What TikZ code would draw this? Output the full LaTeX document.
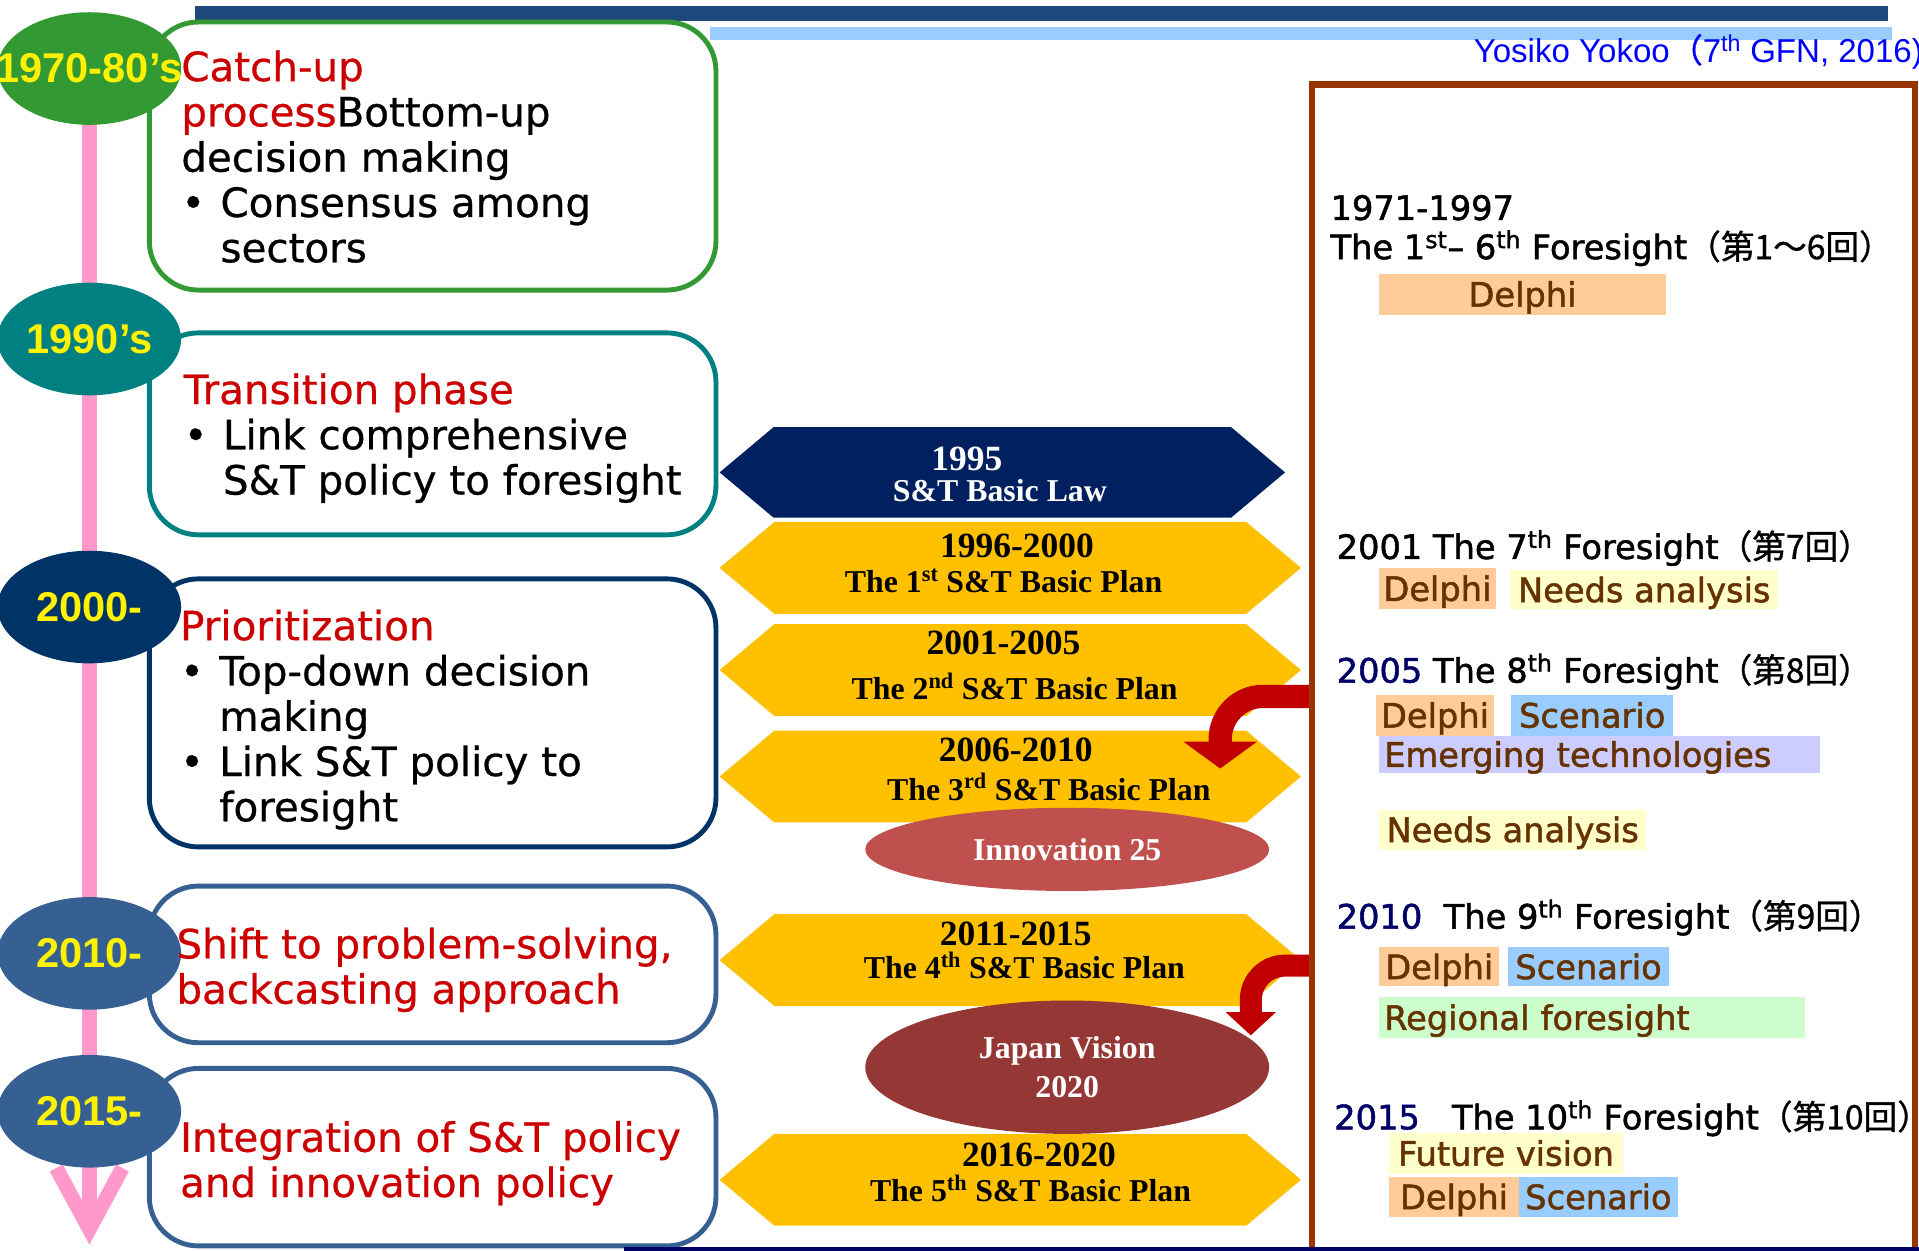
\documentclass[tikz,border=0pt]{standalone}
\usepackage{fontspec}
\setmainfont{DejaVu Sans}[FakeBold=0.6]
\newfontfamily\fsfont{DejaVu Sans}[FakeBold=1.5]
\newfontfamily\jp{Noto Sans CJK JP}[FakeBold=1]
\newfontfamily\arialfont{Liberation Sans}
\newfontfamily\timesfont{Liberation Serif}
\usetikzlibrary{shapes.geometric,shapes.symbols,arrows.meta}

\definecolor{eragreen}{HTML}{339933}
\definecolor{erateal}{HTML}{008080}
\definecolor{eranavy}{HTML}{003366}
\definecolor{erablue}{HTML}{366092}
\definecolor{timepink}{HTML}{FF99CC}
\definecolor{headred}{HTML}{CC0000}
\definecolor{arrowred}{HTML}{C00000}
\definecolor{lawnavy}{HTML}{002060}
\definecolor{plangold}{HTML}{FFC000}
\definecolor{innored}{HTML}{C0504D}
\definecolor{visionred}{HTML}{953735}
\definecolor{framebrown}{HTML}{993300}
\definecolor{tagbrown}{HTML}{663300}
\definecolor{delphi}{HTML}{FFCC99}
\definecolor{needs}{HTML}{FFFFCC}
\definecolor{scenario}{HTML}{99CCFF}
\definecolor{emerging}{HTML}{CCCCFF}
\definecolor{regional}{HTML}{CCFFCC}
\definecolor{yearnavy}{HTML}{000066}
\definecolor{barblue}{HTML}{1F497D}
\definecolor{barlight}{HTML}{99CCFF}

\newcommand{\bul}{\makebox[32pt][l]{\textbullet}}
\newcommand{\indt}{\hspace*{32pt}}
\newcommand{\ord}[1]{\textsuperscript{#1}}

\begin{document}
\begin{tikzpicture}[x=1pt, y=-1pt,
    era/.style={ellipse, minimum width=150pt, minimum height=92pt, inner sep=0pt, text=yellow, font=\arialfont\bfseries\fontsize{34}{34}\selectfont},
    phase/.style={line width=4pt, fill=white, rounded corners=40pt, minimum width=463pt},
    phasetext/.style={anchor=west, align=left, inner sep=0pt, font=\fontsize{33}{37}\selectfont},
    plan/.style={signal, signal to=west and east, signal pointer angle=80, fill=plangold, minimum width=475pt, minimum height=75pt, inner sep=0pt},
    planyear/.style={inner sep=0pt, font=\timesfont\bfseries\fontsize{29}{29}\selectfont},
    plantitle/.style={inner sep=0pt, font=\timesfont\bfseries\fontsize{26}{26}\selectfont},
    policy/.style={ellipse, minimum width=330pt, inner sep=0pt, text=white, align=center, font=\timesfont\bfseries\fontsize{26}{32}\selectfont},
    fsround/.style={anchor=mid west, inner sep=0pt, font=\fsfont\fontsize{27.5}{27.5}\selectfont},
    method/.style={fill=delphi, inner xsep=4pt, inner ysep=0pt, minimum height=33pt, text height=24pt, text depth=4pt, text=tagbrown, font=\fsfont\fontsize{27.5}{27.5}\selectfont},
    bentarrow/.style={draw=arrowred, line width=19pt, rounded corners=35pt}]

    \useasboundingbox (0,0) rectangle (1568,1022);

    \fill[barblue] (159,5) rectangle (1543,17);
    \fill[barlight] (580,22) rectangle (1546,33);
    \node[anchor=base west, inner sep=0pt, text=blue, font=\arialfont\fontsize{27}{27}\selectfont] (author) at (1204,51) {Yosiko Yokoo{\jp（}7\ord{th} GFN, 2016)};

    \draw[timepink, line width=12pt, -{Straight Barb[length=50pt,width=54pt]}] (73,60) -- (73,1017);

    \node[phase, draw=eragreen, minimum height=219pt] (ph1) at (353.5,127.5) {};
    \node[phase, draw=erateal, minimum height=165pt] (ph2) at (353.5,354.5) {};
    \node[phase, draw=eranavy, minimum height=219pt] (ph3) at (353.5,582.5) {};
    \node[phase, draw=erablue, minimum height=128pt] (ph4) at (353.5,788) {};
    \node[phase, draw=erablue, minimum height=145pt] (ph5) at (353.5,945.5) {};

    \node[era, fill=eragreen] (e70) at (73,56) {\makebox[0pt]{1970-80’s}};
    \node[era, fill=erateal] (e90) at (73,277) {\makebox[0pt]{1990’s}};
    \node[era, fill=eranavy] (e00) at (73,496) {\makebox[0pt]{2000-}};
    \node[era, fill=erablue] (e10) at (73,779) {\makebox[0pt]{2010-}};
    \node[era, fill=erablue] (e15) at (73,908) {\makebox[0pt]{2015-}};

    \node[phasetext] (t1) at (148,128) {\textcolor{headred}{Catch-up}\\\textcolor{headred}{process}Bottom-up\\decision making\\\bul Consensus among\\\indt sectors};
    \node[phasetext] (t2) at (150,358) {\textcolor{headred}{Transition phase}\\\bul Link comprehensive\\\indt S\&T policy to foresight};
    \node[phasetext] (t3) at (147,588) {\textcolor{headred}{Prioritization}\\\bul Top-down decision\\\indt making\\\bul Link S\&T policy to\\\indt foresight};
    \node[phasetext, text=headred] (t4) at (144,792.5) {Shift to problem-solving,\\backcasting approach};
    \node[phasetext, text=headred] (t5) at (147,950.5) {Integration of S\&T policy\\and innovation policy};

    \node[plan, fill=lawnavy, minimum width=462pt, minimum height=74pt] (law) at (819,386) {};
    \node[plan] (plan1) at (825.5,464) {};
    \node[plan] (plan2) at (825.5,547.5) {};
    \node[plan] (plan3) at (825.5,634.5) {};
    \node[plan] (plan4) at (825.5,784.5) {};
    \node[plan] (plan5) at (825.5,964) {};

    \node[planyear, text=white] (y95) at (790,375) {1995};
    \node[plantitle, text=white] (l95) at (817,401) {S\&T Basic Law};
    \node[planyear] (y1) at (831,446) {1996-2000};
    \node[plantitle] (l1) at (820,475) {The 1\ord{st} S\&T Basic Plan};
    \node[planyear] (y2) at (820,525) {2001-2005};
    \node[plantitle] (l2) at (829,561) {The 2\ord{nd} S\&T Basic Plan};
    \node[planyear] (y3) at (830,613) {2006-2010};
    \node[plantitle] (l3) at (857,643) {The 3\ord{rd} S\&T Basic Plan};
    \node[planyear] (y4) at (830,763) {2011-2015};
    \node[plantitle] (l4) at (837,789) {The 4\ord{th} S\&T Basic Plan};
    \node[planyear] (y5) at (849,944) {2016-2020};
    \node[plantitle] (l5) at (842,971) {The 5\ord{th} S\&T Basic Plan};

    \node[policy, fill=innored, minimum height=68pt] (inno) at (872,694) {Innovation 25};
    \node[policy, fill=visionred, minimum height=109pt] (vision) at (872,872) {\rule{0pt}{0pt}Japan Vision\\2020};

    \coordinate (fs8) at (1072,569);
    \coordinate (fs9) at (1072,789);
    \coordinate (in3) at (997,628);
    \coordinate (in4) at (1022,846);
    \draw[bentarrow, -{Triangle[width=59pt,length=22pt]}] (fs8) -| (in3);
    \draw[bentarrow, line width=18pt, rounded corners=28pt, -{Triangle[width=40pt,length=19pt]}] (fs9) -| (in4);

    \node[fsround] (r71) at (1087,177) {1971-1997};
    \node[fsround] (r71b) at (1087,209) {The 1\ord{st}– 6\ord{th} Foresight{\jp（第1～6回）}};
    \node[fsround] (r7) at (1092,454) {2001 The 7\ord{th} Foresight{\jp（第7回）}};
    \node[fsround] (r8) at (1092,555) {\textcolor{yearnavy}{2005} The 8\ord{th} Foresight{\jp（第8回）}};
    \node[fsround] (r9) at (1092,756) {\textcolor{yearnavy}{2010}\ \ The 9\ord{th} Foresight{\jp（第9回）}};
    \node[fsround] (r10) at (1090,920) {\textcolor{yearnavy}{2015}\ \ \ The 10\ord{th} Foresight{\jp（第10回）}};

    \node[method, minimum width=234pt] (d1) at (1244,240.5) {Delphi};
    \node[method, minimum width=95pt] (d7) at (1174.5,481) {Delphi};
    \node[method, fill=needs, minimum width=219pt, minimum height=32pt] (n7) at (1343.5,482) {Needs analysis};
    \node[method, minimum width=91pt] (d8) at (1172.5,584.5) {Delphi};
    \node[method, fill=scenario, minimum width=132pt] (s8) at (1301,584.5) {Scenario};
    \node[method, fill=emerging, minimum height=31pt, text width=352pt, align=left] (e8) at (1307,616.5) {Emerging technologies};
    \node[method, fill=needs, minimum width=218pt] (n8) at (1236,678) {Needs analysis};
    \node[method, minimum width=98pt, minimum height=32pt] (d9) at (1176,790) {Delphi};
    \node[method, fill=scenario, minimum width=132pt, minimum height=32pt] (s9) at (1298,790) {Scenario};
    \node[method, fill=regional, text width=340pt, align=left] (g9) at (1301,831.5) {Regional foresight};
    \node[method, fill=needs, minimum width=191pt] (f10) at (1230.5,942.5) {Future vision};
    \node[method, minimum width=106pt, minimum height=32pt] (d10) at (1188,978) {Delphi};
    \node[method, fill=scenario, minimum width=130pt, minimum height=32pt] (s10) at (1306,978) {Scenario};

    \node[draw=framebrown, line width=5pt, minimum width=493pt, minimum height=970pt, inner sep=0pt] (fs) at (1318.5,554) {};
    \fill[yearnavy] (510,1019) rectangle (1568,1023);
\end{tikzpicture}
\end{document}
